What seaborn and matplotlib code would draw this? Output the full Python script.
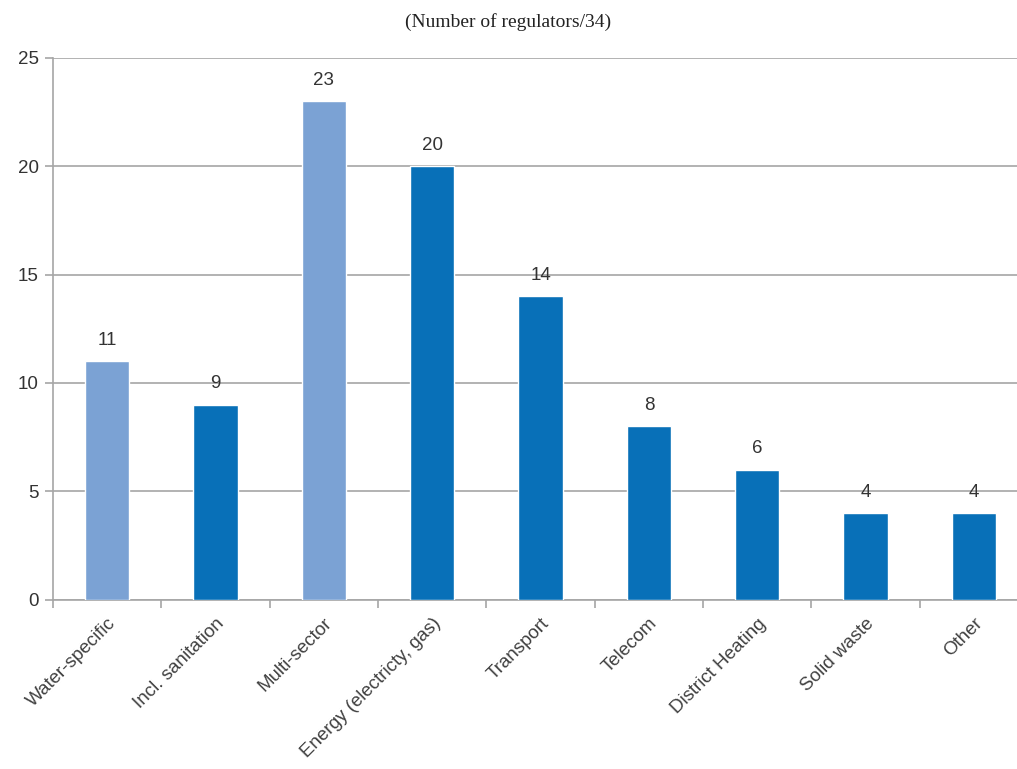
import matplotlib
matplotlib.use("Agg")
import matplotlib.pyplot as plt
import seaborn as sns
import numpy as np

categories = ["Water-specific", "Incl. sanitation", "Multi-sector", "Energy (electricty, gas)",
              "Transport", "Telecom", "District Heating", "Solid waste", "Other"]
values = [11, 9, 23, 20, 14, 8, 6, 4, 4]
bar_colors = ["#7BA2D4", "#0870B8", "#7BA2D4", "#0870B8", "#0870B8",
              "#0870B8", "#0870B8", "#0870B8", "#0870B8"]
y_ticks = [0, 5, 10, 15, 20, 25]

sns.set_theme(style="white")
plt.rcParams["font.family"] = ["Liberation Sans", "DejaVu Sans"]

fig = plt.figure(figsize=(10.17, 7.69), dpi=100)
ax = fig.add_axes([0.052, 0.22, 0.959, 0.705])

sns.barplot(x=categories, y=values, hue=categories, palette=bar_colors,
            legend=False, width=0.41, ax=ax, saturation=1, zorder=3)

ax.set_ylim(0, 25)
ax.set_xlim(-0.5, len(categories) - 0.5)
ax.set_yticks(y_ticks)
ax.yaxis.grid(True, color="#A6A6A6", linewidth=1.2, zorder=0)
ax.set_axisbelow(True)

for s in ["top", "right"]:
    ax.spines[s].set_visible(False)
for s in ["left", "bottom"]:
    ax.spines[s].set_color("#A6A6A6")
    ax.spines[s].set_linewidth(1.2)

ax.tick_params(axis="y", length=6, width=1.2, color="#A6A6A6", labelsize=13.5,
               labelcolor="#333333", left=True, pad=4)
ax.set_xticks(np.arange(len(categories)))
ax.set_xticklabels(categories, rotation=45, ha="right", rotation_mode="anchor",
                   fontsize=13.5, color="#404040")
ax.tick_params(axis="x", which="major", length=0, pad=11)
ax.set_xticks(np.arange(len(categories) + 1) - 0.5, minor=True)
ax.tick_params(axis="x", which="minor", length=6, width=1.2, color="#A6A6A6", bottom=True)

for i, v in enumerate(values):
    ax.annotate(str(v), (i, v), xytext=(0, 9), textcoords="offset points",
                ha="center", va="bottom", fontsize=13.5, color="#333333")

ax.set_xlabel("")
ax.set_ylabel("")
fig.text(0.5, 0.972, "(Number of regulators/34)", ha="center", va="center",
         fontsize=14, family=["Liberation Serif", "DejaVu Serif"], color="#222222")

fig.savefig("out.png", dpi=100)
